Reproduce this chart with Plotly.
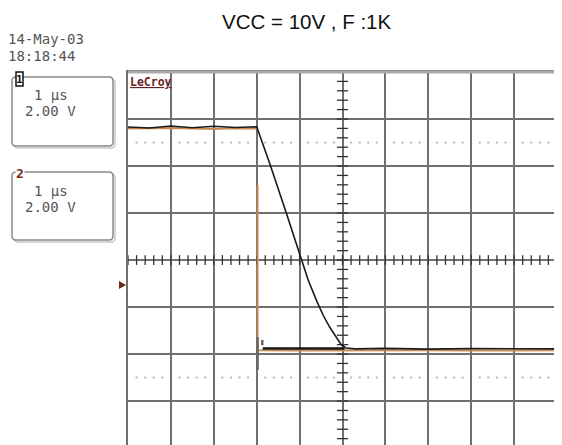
import numpy as np
import plotly.graph_objects as go

# ---- data (time in us, 1 us/div; voltage in V, 2 V/div) ----
t_ch1 = [-5.0, -4.5, -4.0, -3.5, -3.0, -2.5, -2.0, -1.70, -1.31, -1.12, -1.00,
         -0.80, -0.60, -0.45, -0.30, -0.15, -0.03, 0.08, 0.30, 1.0, 2.0, 3.0, 4.0, 5.0]
v_ch1 = [5.66, 5.62, 5.70, 5.63, 5.69, 5.64, 5.67, 4.13, 2.00, 0.94, 0.21,
         -0.85, -1.75, -2.35, -2.85, -3.30, -3.60, -3.74, -3.78, -3.76, -3.79, -3.77, -3.78, -3.78]

t_ch2 = [-5.0, -4.0, -3.0, -2.5, -2.0, None, -1.98, -1.98, -1.0, 0.0, 1.0, 2.0, 3.0, 4.0, 5.0]
v_ch2 = [5.60, 5.62, 5.58, 5.61, 5.60, None, 3.19, -3.84, -3.85, -3.84, -3.86, -3.84, -3.85, -3.83, -3.84]

t_ch2_dark = [-1.86, -1.0, 0.05]
v_ch2_dark = [-3.76, -3.77, -3.76]

t_spike = [-1.98, -1.98, None, -1.87, -1.87]
v_spike = [-3.28, -4.68, None, -3.40, -3.62]

title_text = "VCC = 10V , F :1K"
date_text = "14-May-03"
time_text = "18:18:44"
ch_labels = ["1", "2"]
timebase = "1 \u03bcs"
volts = "2.00 V"

X_RANGE = [-5, 5]
Y_RANGE = [-7.87, 8]

# page body margin offset
OFF = 8
W, H = 562 - OFF, 445 - OFF
ML, MR, MT, MB = 128 - OFF, 5, 72 - OFF, 0
PW, PH = W - ML - MR, H - MT - MB


def px(x):  # screen x -> paper
    return (x - OFF - ML) / PW


def py(y):  # screen y -> paper
    return (H - (y - OFF)) / PH


fig = go.Figure()

# dotted reference lines at +-2.5 div
dot_x = np.array([k + f for k in range(-5, 5) for f in (0.2, 0.4, 0.6, 0.8)])
for lvl in (5.0, -5.0):
    fig.add_trace(go.Scatter(x=dot_x, y=np.full(dot_x.shape, lvl), mode="markers",
                             marker=dict(symbol="square", size=2, color="#b8b8b8",
                                         line=dict(width=0)),
                             hoverinfo="skip", showlegend=False))

# center-line tick marks
tick_x = np.arange(-5, 5.001, 0.2)
fig.add_trace(go.Scatter(x=tick_x, y=np.zeros(tick_x.shape), mode="markers",
                         marker=dict(symbol="line-ns", size=7, color="#333",
                                     line=dict(width=1.3, color="#333")),
                         hoverinfo="skip", showlegend=False))
tick_y = np.arange(-7.6, 8.0, 0.4)
fig.add_trace(go.Scatter(x=np.zeros(tick_y.shape), y=tick_y, mode="markers",
                         marker=dict(symbol="line-ew", size=8, color="#333",
                                     line=dict(width=1.3, color="#333")),
                         hoverinfo="skip", showlegend=False))

# traces
fig.add_trace(go.Scatter(x=t_ch2, y=v_ch2, mode="lines",
                         line=dict(color="#c98a52", width=2), showlegend=False))
fig.add_trace(go.Scatter(x=t_spike, y=v_spike, mode="lines",
                         line=dict(color="#666", width=2.5), showlegend=False))
fig.add_trace(go.Scatter(x=t_ch2_dark, y=v_ch2_dark, mode="lines",
                         line=dict(color="#151515", width=2.5), showlegend=False))
fig.add_trace(go.Scatter(x=t_ch1, y=v_ch1, mode="lines",
                         line=dict(color="#1a1a1a", width=1.6), showlegend=False))

shapes = []
# top border (thicker, lighter)
shapes.append(dict(type="line", xref="paper", yref="paper", x0=0, x1=1, y0=1, y1=1,
                   line=dict(color="#aaa", width=3)))


def rrect(x0, y0, x1, y1, r=4):
    a, b, c, d = px(x0), py(y0), px(x1), py(y1)
    rx, ry = r / PW, r / PH
    return (f"M {a+rx},{b} L {c-rx},{b} Q {c},{b} {c},{b-ry} L {c},{d+ry} "
            f"Q {c},{d} {c-rx},{d} L {a+rx},{d} Q {a},{d} {a},{d+ry} L {a},{b-ry} "
            f"Q {a},{b} {a+rx},{b} Z")


for (y0, y1) in ((77, 146), (172, 240)):
    shapes.append(dict(type="path", xref="paper", yref="paper",
                       path=rrect(14, y0 + 2, 115, y1 + 2), line=dict(color="#c8c8c8", width=1.5)))
    shapes.append(dict(type="path", xref="paper", yref="paper",
                       path=rrect(12, y0, 113, y1), line=dict(color="#8a8a8a", width=1.5),
                       fillcolor="white"))

# channel 1 label box
shapes.append(dict(type="rect", xref="paper", yref="paper", x0=px(16), x1=px(23),
                   y0=py(86), y1=py(72), line=dict(color="#111", width=1.5), fillcolor="white"))

# offset marker on left
shapes.append(dict(type="path", xref="paper", yref="paper",
                   path=f"M {px(119)},{py(281)} L {px(126)},{py(285)} L {px(119)},{py(289)} Z",
                   fillcolor="#6a2a1a", line=dict(width=0)))
# markers on right edge
shapes.append(dict(type="line", xref="paper", yref="paper", x0=px(557), x1=px(562),
                   y0=py(285), y1=py(285), line=dict(color="#333", width=1.5)))
shapes.append(dict(type="line", xref="paper", yref="paper", x0=px(559), x1=px(559),
                   y0=py(341), y1=py(356), line=dict(color="#a0703a", width=2)))

annotations = [
    dict(text=title_text, xref="paper", yref="paper", x=px(307), y=py(22),
         xanchor="center", yanchor="middle", showarrow=False,
         font=dict(family="Liberation Sans, Arial", size=20.5, color="#111")),
    dict(text=date_text, xref="paper", yref="paper", x=px(6), y=py(39),
         xanchor="left", yanchor="middle", showarrow=False,
         font=dict(family="DejaVu Sans Mono", size=14, color="#555")),
    dict(text=time_text, xref="paper", yref="paper", x=px(6), y=py(56),
         xanchor="left", yanchor="middle", showarrow=False,
         font=dict(family="DejaVu Sans Mono", size=14, color="#555")),
    dict(text="<b><u>LeCroy</u></b>", xref="paper", yref="paper", x=px(128), y=py(82),
         xanchor="left", yanchor="middle", showarrow=False,
         font=dict(family="DejaVu Sans Mono", size=11.5, color="#6a1f1f")),
    dict(text="<b>" + ch_labels[0] + "</b>", xref="paper", yref="paper", x=px(19.5), y=py(79),
         xanchor="center", yanchor="middle", showarrow=False,
         font=dict(family="DejaVu Sans Mono", size=11, color="#111")),
    dict(text="<b>" + ch_labels[1] + "</b>", xref="paper", yref="paper", x=px(19.5), y=py(173),
         xanchor="center", yanchor="middle", showarrow=False, bgcolor="white", borderpad=0,
         font=dict(family="DejaVu Sans Mono", size=13, color="#7a2a1a")),
]
for yt in (95, 191):
    annotations.append(dict(text=timebase, xref="paper", yref="paper", x=px(51), y=py(yt),
                            xanchor="center", yanchor="middle", showarrow=False,
                            font=dict(family="DejaVu Sans Mono", size=14, color="#555")))
    annotations.append(dict(text=volts, xref="paper", yref="paper", x=px(50), y=py(yt + 16),
                            xanchor="center", yanchor="middle", showarrow=False,
                            font=dict(family="DejaVu Sans Mono", size=14, color="#555")))

fig.update_layout(
    width=W, height=H,
    margin=dict(l=ML, r=MR, t=MT, b=MB),
    paper_bgcolor="white", plot_bgcolor="white",
    shapes=shapes, annotations=annotations,
    xaxis=dict(range=X_RANGE, dtick=1, tick0=0, showgrid=True, gridcolor="#707070",
               gridwidth=1.5, zeroline=False, showticklabels=False, ticks="",
               showline=True, linecolor="#707070", linewidth=1.5, mirror=True, fixedrange=True),
    yaxis=dict(range=Y_RANGE, dtick=2, tick0=0, showgrid=True, gridcolor="#707070",
               gridwidth=1.5, zeroline=False, showticklabels=False, ticks="",
               showline=True, linecolor="#707070", linewidth=1.5, mirror=True, fixedrange=True),
    showlegend=False,
)

fig.write_html("out.html")
